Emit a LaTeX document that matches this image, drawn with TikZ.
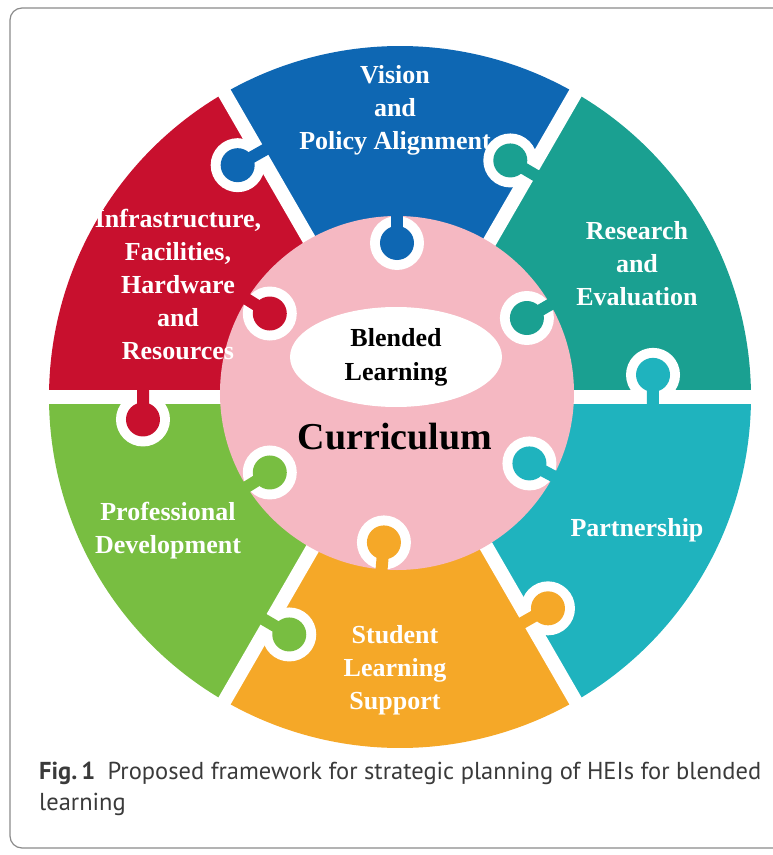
\documentclass[tikz,border=0pt]{standalone}
\usepackage{fontspec}
\setmainfont{Liberation Serif}
\newfontfamily\capfont{PT Sans}

\definecolor{vision}{HTML}{0E67B3}
\definecolor{crimson}{HTML}{C8102E}
\definecolor{research}{HTML}{1AA091}
\definecolor{partner}{HTML}{1FB3BE}
\definecolor{leaf}{HTML}{78BE41}
\definecolor{amber}{HTML}{F5A828}
\definecolor{blush}{HTML}{F5B8C2}
\definecolor{framegray}{HTML}{8A8A8A}
\definecolor{captext}{HTML}{3A3A3A}

\tikzset{
  piece/.style={text=white,align=center,font=\bfseries\fontsize{26}{33}\selectfont},
  core/.style={text=black,align=center,font=\bfseries\fontsize{26}{34}\selectfont},
  gap/.style={white,line width=14pt},
  neck/.style={line width=12pt},
}

\begin{document}
\begin{tikzpicture}[x=1pt,y=1pt]
  \useasboundingbox (-400,397) rectangle (372,-458);
  % frame
  \draw[framegray,line width=1.2pt,rounded corners=12pt] (-390,389) rectangle (400,-451);

  % six puzzle sectors
  \foreach \col/\a in {research/0, vision/60, crimson/120, leaf/180, amber/240, partner/300}
    \fill[\col] (0,0) -- (\a:351) arc[start angle=\a, end angle=\a+60, radius=351] -- cycle;
  \foreach \a in {0,60,...,300}
    \draw[gap] (0,0) -- (\a:360);

  % knobs between sectors
  \foreach \col/\a/\r in {research/60/261, vision/120/283, crimson/180/258,
                          leaf/240/262, amber/300/258, partner/360/254} {
    \fill[white] (\a+5:\r) circle[radius=27];
    \draw[\col,neck] (\a+5:\r) -- (\a-6:\r);
    \fill[\col] (\a+5:\r) circle[radius=17];
  }

  % centre disc with its knobs
  \begin{scope}[shift={(-3,4)}]
    \fill[blush] (0,0) circle[radius=177];
    \foreach \col/\a in {research/30, vision/90, crimson/148,
                         leaf/212, amber/265, partner/332} {
      \fill[white] (\a:150) circle[radius=27];
      \draw[\col,neck] (\a:150) -- (\a:186);
      \fill[\col] (\a:150) circle[radius=17];
    }
  \end{scope}

  \fill[white] (-4,40) ellipse[x radius=106, y radius=50];
  \node[core] (blended) at (-4,40) {Blended\\Learning};
  \node[core,font=\bfseries\fontsize{38}{40}\selectfont] (curriculum) at (-5,-40) {Curriculum};

  % sector labels
  \node[piece] (vision) at (-5,287) {Vision\\and\\Policy Alignment};
  \node[piece] (infra) at (-222,112) {Infrastructure,\\Facilities,\\Hardware\\and\\Resources};
  \node[piece] (research) at (237,133) {Research\\and\\Evaluation};
  \node[piece] (partnership) at (237,-133) {Partnership};
  \node[piece] (professional) at (-232,-134) {Professional\\Development};
  \node[piece] (student) at (-5,-273) {Student\\Learning\\Support};

  % caption
  \node[anchor=north west,align=left,text=captext,inner sep=0pt,
        font=\capfont\fontsize{24.5}{31}\selectfont] (caption) at (-361,-365)
    {\textbf{Fig.\,1}\enspace Proposed framework for strategic planning of HEIs for blended\\learning};
\end{tikzpicture}
\end{document}
